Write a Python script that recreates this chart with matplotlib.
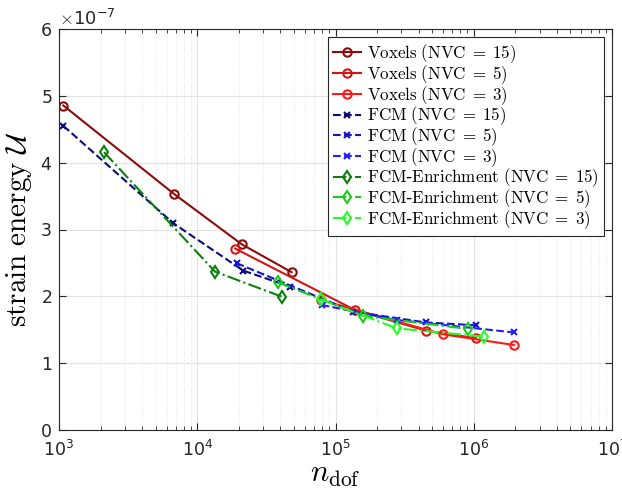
import numpy as np
import matplotlib
matplotlib.use("Agg")
import matplotlib.pyplot as plt
from matplotlib.ticker import ScalarFormatter, LogLocator

plt.rcParams['mathtext.fontset'] = 'cm'
plt.rcParams['font.family'] = ['DejaVu Sans']

# ---- data ----
vox15_x = [1075, 6785, 20940, 48150]
vox15_y = [4.855e-7, 3.533e-7, 2.780e-7, 2.361e-7]
vox5_x = [18830, 1.381e5, 4.505e5, 1.036e6]
vox5_y = [2.714e-7, 1.796e-7, 1.487e-7, 1.373e-7]
vox3_x = [78030, 5.948e5, 1.950e6]
vox3_y = [1.946e-7, 1.433e-7, 1.272e-7]

fcm15_x = [1075, 6707, 21510, 46800]
fcm15_y = [4.551e-7, 3.094e-7, 2.385e-7, 2.145e-7]
fcm5_x = [19270, 1.343e5, 4.505e5, 1.036e6]
fcm5_y = [2.496e-7, 1.771e-7, 1.609e-7, 1.567e-7]
fcm3_x = [79330, 2.766e5, 1.959e6]
fcm3_y = [1.871e-7, 1.647e-7, 1.460e-7]

enr15_x = [2115, 13430, 40760]
enr15_y = [4.157e-7, 2.370e-7, 1.996e-7]
enr5_x = [38140, 1.586e5, 9.11e5]
enr5_y = [2.211e-7, 1.707e-7, 1.512e-7]
enr3_x = [78000, 2.766e5, 1.183e6]
enr3_y = [1.954e-7, 1.522e-7, 1.397e-7]

method_names = ["Voxels", "Voxels", "Voxels", "FCM", "FCM", "FCM",
                "FCM-Enrichment", "FCM-Enrichment", "FCM-Enrichment"]
nvc_values = [15, 5, 3, 15, 5, 3, 15, 5, 3]


def make_label(name, nvc):
    name_tex = name.replace("-", "}$-$\\mathrm{")
    return r"$\mathrm{" + name_tex + r"\ (NVC}\;=\;\mathrm{" + str(nvc) + ")}$"


labels = [make_label(n, v) for n, v in zip(method_names, nvc_values)]

fig = plt.figure(figsize=(6.22, 4.93), dpi=100)
ax = fig.add_axes([59/622, 63/493, 553/622, 401/493])

series = [
    (vox15_x, vox15_y, '#8B0A0A', '-', 'o'),
    (vox5_x, vox5_y, '#D41515', '-', 'o'),
    (vox3_x, vox3_y, '#FF1A1A', '-', 'o'),
    (fcm15_x, fcm15_y, '#0A0A80', '--', 'x'),
    (fcm5_x, fcm5_y, '#1414CC', '--', 'x'),
    (fcm3_x, fcm3_y, '#2020FF', '--', 'x'),
    (enr15_x, enr15_y, '#0A800A', '-.', 'd'),
    (enr5_x, enr5_y, '#1ACC1A', '-.', 'd'),
    (enr3_x, enr3_y, '#22FF22', '-.', 'd'),
]
for (x, y, c, ls, m), lab in zip(series, labels):
    ax.plot(x, y, color=c, linestyle=ls, marker=m, markersize=6 if m != 'x' else 5,
            markerfacecolor='none', markeredgewidth=1.5, linewidth=1.5, label=lab)

ax.set_xscale('log')
ax.set_xlim(1e3, 1e7)
ax.set_ylim(0, 6e-7)
ax.set_yticks(np.arange(0, 7) * 1e-7)
fmt = ScalarFormatter(useMathText=True)
fmt.set_powerlimits((0, 0))
ax.yaxis.set_major_formatter(fmt)
ax.yaxis.get_offset_text().set_fontsize(13)
ax.yaxis.get_offset_text().set_color('#262626')

ax.xaxis.set_major_locator(LogLocator(base=10, numticks=10))
ax.xaxis.set_minor_locator(LogLocator(base=10, subs=np.arange(2, 10), numticks=10))

ax.tick_params(which='both', direction='in', top=True, right=True, colors='#262626', labelsize=12.5)
ax.tick_params(axis='x', which='major', pad=7)
ax.tick_params(axis='y', which='major', pad=5)
ax.tick_params(which='major', length=5)
ax.tick_params(which='minor', length=3)
for s in ax.spines.values():
    s.set_color('#262626')
    s.set_linewidth(0.8)

ax.grid(True, which='major', color='#e3e3e3', linewidth=0.8)
ax.grid(True, which='minor', axis='x', color='#e3e3e3', linewidth=0.7, linestyle=':')
ax.set_axisbelow(True)

ax.set_xlabel(r"$n_{\mathrm{dof}}$", fontsize=22, labelpad=0)
ax.set_ylabel(r"$\mathrm{strain\ energy}\ \mathcal{U}$", fontsize=21, labelpad=4)

leg = ax.legend(loc='upper right', fontsize=12.2, frameon=True, fancybox=False,
                edgecolor='#262626', framealpha=1, labelspacing=-0.12, handlelength=1.7,
                handletextpad=0.3, borderpad=0.3, borderaxespad=0.5)
leg.get_frame().set_linewidth(0.8)

fig.savefig('out.png', dpi=100)
